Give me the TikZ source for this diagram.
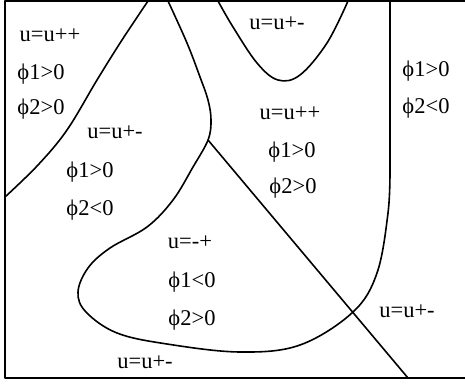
\documentclass[tikz,border=0pt]{standalone}
\usepackage{fontspec}
\setmainfont{Liberation Serif}
\begin{document}
\begin{tikzpicture}[x=1pt,y=-1pt,
  bnd/.style={line width=1.6pt,line join=round},
  lbl/.style={font=\fontsize{22.5}{26}\selectfont,inner sep=0pt,anchor=center}]
\useasboundingbox (0,0) rectangle (465,383);
% frame (left, top, bottom)
\draw[bnd] (465,1) -- (5,1) -- (5,378) -- (465,378);
% curve A
\draw[bnd] plot[smooth,tension=0.6] coordinates {(5,197) (38,165) (67,130) (97,80) (122,40) (148,1)};
% curve B
\draw[bnd] plot[smooth,tension=0.6] coordinates {(168,1) (187,43) (200,77) (208,100) (211,120) (208,140) (193,167) (173,200) (147,227) (110,248) (88,268) (78,292) (86,312) (117,333) (167,344) (240,352) (300,345) (353,312) (377,273) (388,213) (390,170)} -- (390,1);
% curve C
\draw[bnd] plot[smooth,tension=0.6] coordinates {(218,1) (233,27) (257,63) (278,80) (300,75) (327,43) (348,1)};
% straight line
\coordinate (j) at (208,140);
\coordinate (e) at (408,378);
\draw[bnd] (j) -- (e);
% labels
\node[lbl] (t1) at (50,35) {u=u++};
\node[lbl] (t2) at (41,74) {ϕ1>0};
\node[lbl] (t3) at (41,109) {ϕ2>0};
\node[lbl] (t4) at (115,132) {u=u+-};
\node[lbl] (t5) at (90,172) {ϕ1>0};
\node[lbl] (t6) at (90,210) {ϕ2<0};
\node[lbl] (t7) at (190,242) {u=-+};
\node[lbl] (t8) at (192,282) {ϕ1<0};
\node[lbl] (t9) at (192,320) {ϕ2>0};
\node[lbl] (t10) at (145,362) {u=u+-};
\node[lbl] (t11) at (277,23) {u=u+-};
\node[lbl] (t12) at (290,113) {u=u++};
\node[lbl] (t13) at (292,152) {ϕ1>0};
\node[lbl] (t14) at (293,188) {ϕ2>0};
\node[lbl] (t15) at (426,71) {ϕ1>0};
\node[lbl] (t16) at (426,108) {ϕ2<0};
\node[lbl] (t17) at (407,311) {u=u+-};
\end{tikzpicture}
\end{document}
